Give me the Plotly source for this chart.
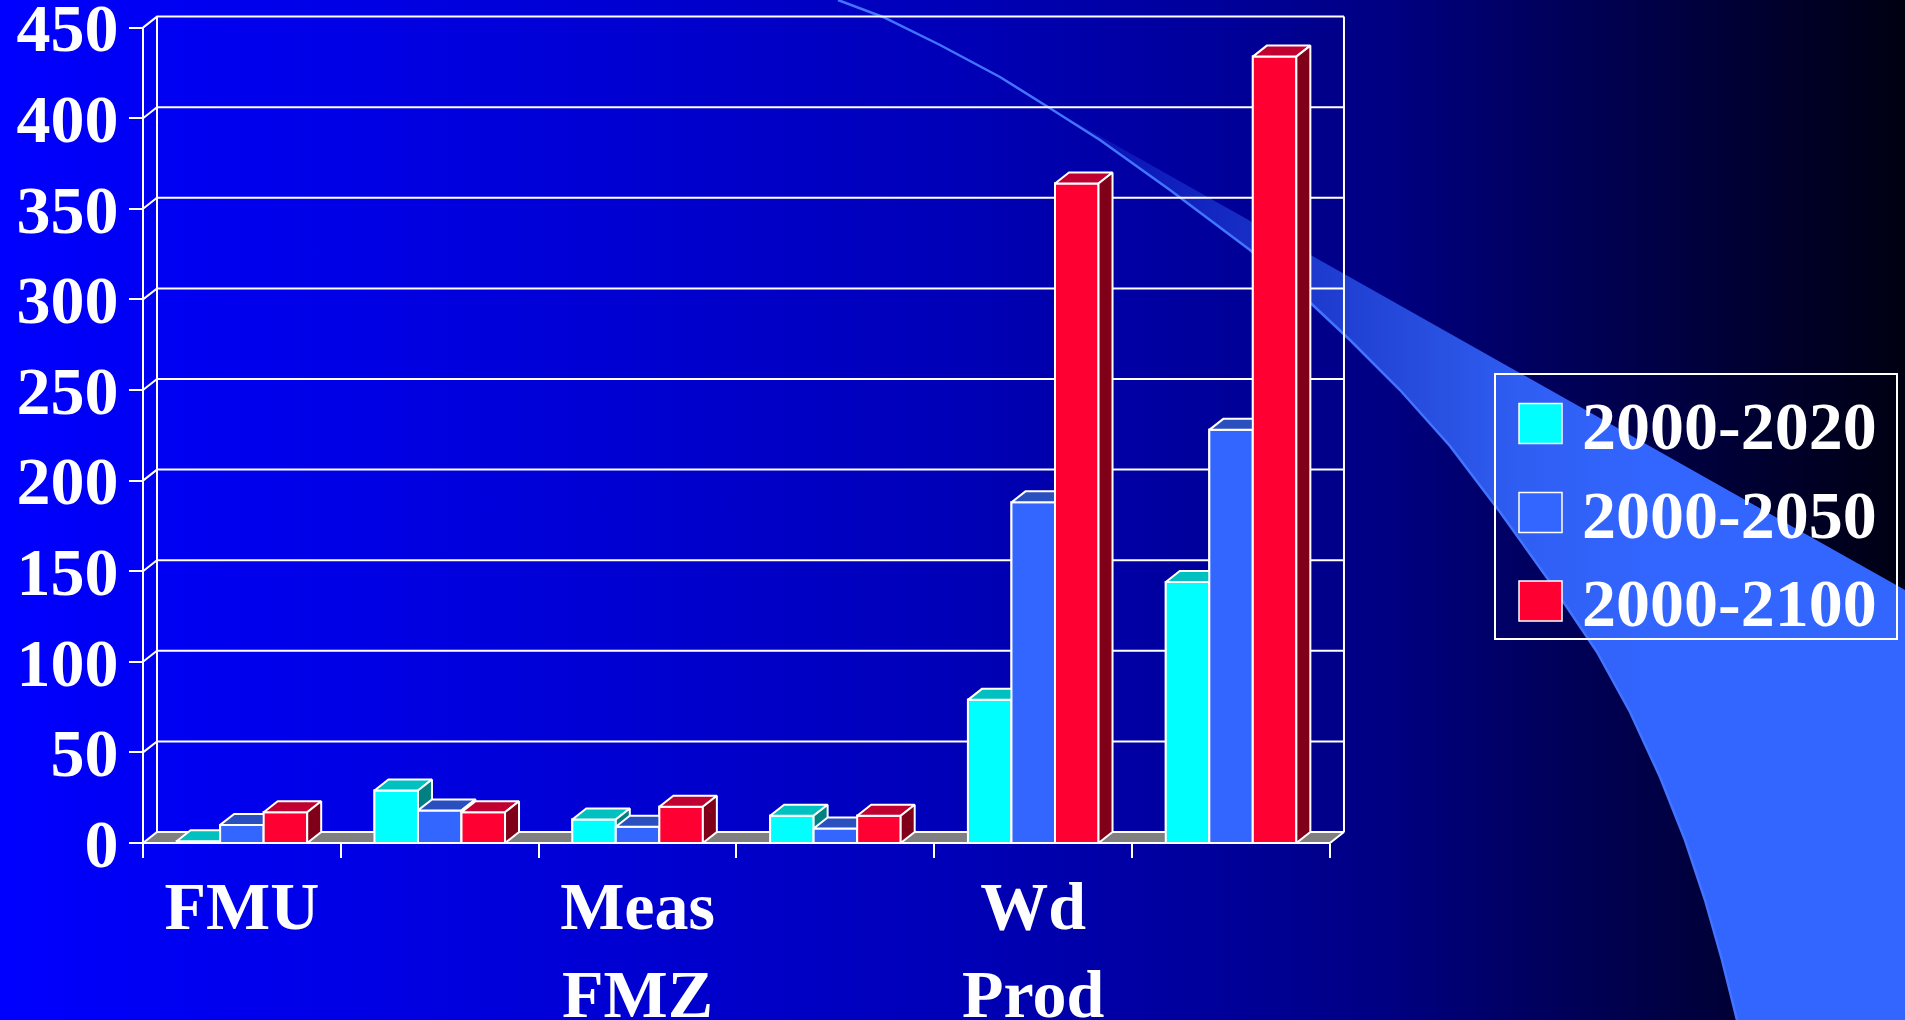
import plotly.graph_objects as go

# ---------------- data ----------------
CATEGORY_LABELS = ["FMU", "", "Meas<br>FMZ", "", "Wd<br>Prod", ""]
SERIES_NAMES = ["2000-2020", "2000-2050", "2000-2100"]
VALUES_2020 = [1, 29, 13, 15, 79, 144]
VALUES_2050 = [10, 18, 9, 8, 188, 228]
VALUES_2100 = [17, 17, 20, 15, 364, 434]
Y_TICKS = [0, 50, 100, 150, 200, 250, 300, 350, 400, 450]

FRONT_COLORS = ["#00FFFF", "#3366FF", "#FF0033"]
TOP_COLORS = ["#00C0C0", "#2A50C0", "#C00030"]
SIDE_COLORS = ["#008080", "#1F3A99", "#80001A"]

SERIES = [VALUES_2020, VALUES_2050, VALUES_2100]

# ---------------- geometry (pixels) ----------------
W, H = 1905, 1020
X_LEFT_PX = 143.0      # front left axis
CAT_PX = 197.83        # pixels per category
Y_ZERO_PX = 843.0      # front zero line
UNIT_PX = 1.812        # pixels per value unit
DEPTH_DX_PX, DEPTH_DY_PX = 14.0, 11.0

ddx = DEPTH_DX_PX / CAT_PX
ddy = DEPTH_DY_PX / UNIT_PX

dom_x_px = (139.0, 1352.0)
dom_y_px = (12.0, 848.0)  # top, bottom
x_range = [-0.5 - (X_LEFT_PX - dom_x_px[0]) / CAT_PX, -0.5 + (dom_x_px[1] - X_LEFT_PX) / CAT_PX]
y_range = [-(dom_y_px[1] - Y_ZERO_PX) / UNIT_PX, (Y_ZERO_PX - dom_y_px[0]) / UNIT_PX]

FONT = "Liberation Serif, Times New Roman, serif"
n_cat = len(CATEGORY_LABELS)
cats = list(range(n_cat))
bargap = 0.34
bw = (1 - bargap) / len(SERIES)

fig = go.Figure()

# ---------------- background (full-page axes x/y in pixel units) ----------------
fig.add_trace(go.Scatter(
    x=[0, W, W, 0, 0], y=[0, 0, H, H, 0], mode="none", fill="toself",
    fillgradient=dict(type="horizontal", start=0, stop=W,
                      colorscale=[[0.0, "#0000FF"], [0.33, "#0000D2"], [0.5, "#0000B8"],
                                  [0.65, "#000098"], [0.73, "#000082"], [0.79, "#000066"],
                                  [0.88, "#000042"], [1.0, "#000012"]]),
    hoverinfo="skip", showlegend=False, xaxis="x", yaxis="y"))

curve = [(838, 0), (883, 17), (940, 45), (1000, 77), (1048, 107), (1100, 140), (1170, 190),
         (1250, 250), (1300, 293), (1350, 340), (1400, 390), (1450, 446), (1500, 512),
         (1550, 582), (1597, 652), (1630, 712), (1660, 777), (1685, 840), (1705, 900),
         (1722, 960), (1737, 1020)]
band = [(1048, 107), (1905, 590), (1905, 1020)] + [p for p in reversed(curve) if p[0] >= 1048]
fig.add_trace(go.Scatter(
    x=[p[0] for p in band], y=[p[1] for p in band], mode="none", fill="toself",
    fillgradient=dict(type="horizontal", start=1000, stop=1650,
                      colorscale=[[0.0, "rgba(51,102,255,0)"], [0.3, "rgba(51,102,255,0.35)"],
                                  [0.55, "rgba(51,102,255,0.65)"], [0.8, "rgba(51,102,255,0.92)"],
                                  [1.0, "rgba(51,102,255,1)"]]),
    hoverinfo="skip", showlegend=False, xaxis="x", yaxis="y"))
fig.add_trace(go.Scatter(
    x=[p[0] for p in curve], y=[p[1] for p in curve], mode="lines",
    line=dict(color="#4274FF", width=2.5),
    hoverinfo="skip", showlegend=False, xaxis="x", yaxis="y"))

# ---------------- chart (x2/y2) ----------------
# actual bars (covered by the 3D faces below, same geometry)
for j, vals in enumerate(SERIES):
    fig.add_trace(go.Bar(x=cats, y=vals, name=SERIES_NAMES[j], xaxis="x2", yaxis="y2",
                         marker=dict(color=FRONT_COLORS[j], line=dict(color="white", width=2)),
                         showlegend=False, hoverinfo="skip"))

# back wall grid lines + wall edges
gx, gy = [], []
xl, xr = -0.5, n_cat - 0.5
for t in Y_TICKS[1:]:
    gx += [xl, xl + ddx, xr + ddx, None]
    gy += [t, t + ddy, t + ddy, None]
top = Y_TICKS[-1]
gx += [xl + ddx, xl + ddx, None, xr + ddx, xr + ddx, None, xl, xl, None]
gy += [ddy, top + ddy, None, ddy, top + ddy, None, 0, top, None]
fig.add_trace(go.Scatter(x=gx, y=gy, mode="lines", line=dict(color="white", width=2),
                         hoverinfo="skip", showlegend=False, xaxis="x2", yaxis="y2"))

# floor
fig.add_trace(go.Scatter(x=[xl, xr, xr + ddx, xl + ddx, xl], y=[0, 0, ddy, ddy, 0],
                         mode="lines", fill="toself", fillcolor="#808080",
                         line=dict(color="white", width=2),
                         hoverinfo="skip", showlegend=False, xaxis="x2", yaxis="y2"))

# 3D faces, painted left-to-right within each cluster
for j, vals in enumerate(SERIES):
    off = (j - (len(SERIES) - 1) / 2) * bw
    faces = {"front": ([], []), "top": ([], []), "side": ([], [])}
    for i, v in zip(cats, vals):
        x0 = i + off - bw / 2
        x1 = x0 + bw
        fx, fy = faces["front"]
        fx += [x0, x1, x1, x0, x0, None]; fy += [0, 0, v, v, 0, None]
        tx, ty = faces["top"]
        tx += [x0, x1, x1 + ddx, x0 + ddx, x0, None]; ty += [v, v, v + ddy, v + ddy, v, None]
        sx, sy = faces["side"]
        sx += [x1, x1 + ddx, x1 + ddx, x1, x1, None]; sy += [0, ddy, v + ddy, v, 0, None]
    for face, col in (("front", FRONT_COLORS[j]), ("top", TOP_COLORS[j]), ("side", SIDE_COLORS[j])):
        fx, fy = faces[face]
        fig.add_trace(go.Scatter(x=fx, y=fy, mode="lines", fill="toself", fillcolor=col,
                                 line=dict(color="white", width=2), hoverinfo="skip",
                                 showlegend=False, xaxis="x2", yaxis="y2"))

# ---------------- legend (drawn manually, pixel units on background axes) ----------------
shapes = [dict(type="rect", xref="x", yref="y", x0=1495, x1=1897, y0=374, y1=639,
               line=dict(color="white", width=2), fillcolor="rgba(0,0,0,0)", layer="above")]
annotations = []
row_y = [423.5, 512.5, 601.0]
for j, name in enumerate(SERIES_NAMES):
    yc = row_y[j]
    shapes.append(dict(type="rect", xref="x", yref="y", x0=1519, x1=1562, y0=yc - 20, y1=yc + 20,
                       fillcolor=FRONT_COLORS[j], line=dict(color="white", width=1.5), layer="above"))
    annotations.append(dict(xref="x", yref="y", x=1580, y=yc + 2, text=name, showarrow=False,
                            xanchor="left", yanchor="middle",
                            font=dict(family=FONT, size=68, color="white", weight="bold")))

tickfont = dict(family=FONT, size=68, color="white", weight="bold")
lab_vals = [i for i, l in enumerate(CATEGORY_LABELS) if l]
lab_text = [l for l in CATEGORY_LABELS if l]

fig.update_layout(
    width=W, height=H, margin=dict(l=0, r=0, t=0, b=0, pad=0, autoexpand=False),
    paper_bgcolor="#000080", plot_bgcolor="rgba(0,0,0,0)",
    barmode="group", bargap=bargap, bargroupgap=0,
    showlegend=False,
    xaxis=dict(domain=[0, 1], range=[0, W], visible=False, fixedrange=True, automargin=False),
    yaxis=dict(domain=[0, 1], range=[H, 0], visible=False, fixedrange=True, automargin=False),
    xaxis2=dict(domain=[dom_x_px[0] / W, dom_x_px[1] / W], range=x_range,
                anchor="free", position=1 - Y_ZERO_PX / H, automargin=False,
                showgrid=False, zeroline=False, showline=False, ticklabeloverflow="allow",
                tickmode="array", tickvals=lab_vals, ticktext=lab_text, ticks="",
                tickfont=tickfont, ticklabelstandoff=17,
                minor=dict(tickmode="array", tickvals=[c - 0.5 for c in cats] + [n_cat - 0.5],
                           ticks="outside", ticklen=14, tickwidth=2, tickcolor="white",
                           showgrid=False)),
    yaxis2=dict(domain=[1 - dom_y_px[1] / H, 1 - dom_y_px[0] / H], range=y_range,
                anchor="free", position=X_LEFT_PX / W, automargin=False,
                showgrid=False, zeroline=False, showline=False, ticklabeloverflow="allow",
                tickmode="array", tickvals=Y_TICKS, ticks="outside", ticklen=14,
                tickwidth=2, tickcolor="white", tickfont=tickfont, ticklabelstandoff=-3),
    shapes=shapes, annotations=annotations,
)

fig.write_html("out.html")
